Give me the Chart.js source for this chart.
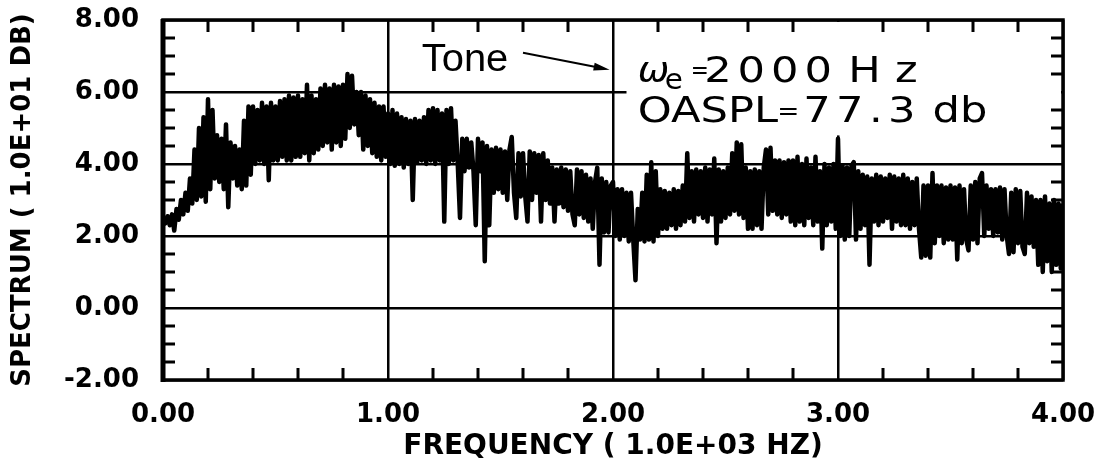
<!DOCTYPE html>
<html>
<head>
<meta charset="utf-8">
<script src="https://cdn.jsdelivr.net/npm/chart.js@4.4.1/dist/chart.umd.min.js"></script>
<style>
  html, body { margin: 0; padding: 0; background: #fff; }
  canvas { display: block; }
</style>
</head>
<body>
<canvas id="spectrum-chart" width="1112" height="475"></canvas>
<script>
// Narrow-band spectrum, 0 - 4 kHz, sampled every 10 Hz (values in units of 10 dB)
const freqStep = 0.01;
const spectrum = [
    2.40, 2.35, 2.55, 2.30, 2.60, 2.15, 2.75, 2.45, 3.00, 2.60,   // 0.0
    3.20, 2.70, 3.60, 2.90, 4.40, 3.00, 5.00, 3.10, 5.30, 2.95,   // 0.1
    5.80, 3.30, 5.50, 3.60, 4.80, 3.50, 4.70, 3.30, 5.10, 2.80,   // 0.2
    4.60, 3.60, 4.50, 3.40, 4.40, 3.30, 5.20, 3.40, 5.60, 3.70,   // 0.3
    5.60, 4.00, 5.50, 4.10, 5.70, 4.00, 5.60, 3.55, 5.70, 4.10,   // 0.4
    5.60, 4.10, 5.75, 4.20, 5.80, 4.10, 5.90, 4.10, 5.85, 4.20,   // 0.5
    5.90, 4.20, 5.80, 4.30, 6.20, 4.10, 5.90, 4.30, 5.80, 4.40,   // 0.6
    6.10, 4.50, 6.20, 4.60, 6.10, 4.40, 6.20, 4.60, 6.15, 4.50,   // 0.7
    6.20, 4.70, 6.50, 5.00, 6.45, 5.10, 6.00, 4.80, 6.00, 4.40,   // 0.8
    5.90, 4.50, 5.80, 4.30, 5.70, 4.20, 5.60, 4.10, 5.60, 4.20,   // 0.9
    5.40, 4.00, 5.50, 3.95, 5.40, 4.00, 5.30, 3.90, 5.25, 4.00,   // 1.0
    5.20, 3.00, 5.25, 4.05, 5.20, 4.10, 5.30, 4.00, 5.50, 4.10,   // 1.1
    5.55, 4.00, 5.50, 4.10, 5.40, 2.40, 5.50, 4.00, 5.55, 4.10,   // 1.2
    5.20, 4.00, 2.50, 4.70, 3.80, 4.70, 3.90, 4.60, 3.80, 2.30,   // 1.3
    4.70, 3.80, 4.60, 1.30, 4.50, 2.30, 4.40, 3.20, 4.45, 3.30,   // 1.4
    4.40, 3.20, 4.35, 3.00, 4.40, 4.75, 3.20, 2.50, 4.30, 3.10,   // 1.5
    4.30, 3.10, 2.40, 4.35, 3.00, 4.30, 3.20, 4.25, 2.40, 4.30,   // 1.6
    3.00, 4.10, 2.90, 3.90, 2.40, 3.85, 2.90, 3.90, 2.80, 3.85,   // 1.7
    2.70, 3.80, 2.60, 2.30, 3.85, 2.60, 3.80, 2.50, 3.70, 2.40,   // 1.8
    3.60, 2.20, 3.50, 3.90, 1.20, 3.60, 2.10, 3.50, 2.10, 3.40,   // 1.9
    3.50, 2.00, 3.30, 1.90, 3.30, 2.00, 3.20, 1.85, 3.20, 1.90,   // 2.0
    0.77, 2.75, 1.90, 3.20, 1.85, 3.70, 1.90, 4.05, 1.85, 3.80,   // 2.1
    2.00, 3.30, 2.20, 3.25, 2.20, 3.20, 2.30, 3.30, 2.20, 3.25,   // 2.2
    2.30, 3.40, 2.40, 4.30, 2.50, 3.80, 2.40, 3.85, 2.60, 3.80,   // 2.3
    2.50, 3.90, 2.40, 3.85, 2.60, 4.15, 1.80, 3.85, 2.40, 3.80,   // 2.4
    2.50, 3.90, 2.60, 4.30, 2.70, 4.60, 2.60, 4.55, 2.50, 3.90,   // 2.5
    2.20, 3.80, 2.20, 3.85, 2.30, 3.80, 2.20, 3.90, 4.40, 2.60,   // 2.6
    4.45, 2.70, 4.10, 2.60, 4.10, 2.50, 4.05, 2.60, 4.10, 2.40,   // 2.7
    4.10, 2.30, 4.20, 2.40, 4.00, 2.30, 4.15, 2.50, 3.90, 2.30,   // 2.8
    4.20, 2.40, 3.80, 1.65, 4.00, 2.30, 3.90, 2.40, 4.00, 2.20,   // 2.9
    4.70, 2.00, 3.95, 1.90, 3.90, 2.00, 3.95, 4.05, 1.90, 3.80,   // 3.0
    2.20, 3.70, 2.30, 3.65, 1.20, 3.60, 2.40, 3.70, 2.30, 3.65,   // 3.1
    2.40, 3.60, 2.50, 3.70, 2.20, 3.65, 2.40, 3.60, 2.30, 3.70,   // 3.2
    2.30, 3.60, 2.20, 3.50, 2.30, 3.60, 2.20, 1.40, 3.40, 1.45,   // 3.3
    3.40, 1.40, 3.75, 1.80, 3.40, 2.00, 3.40, 1.80, 3.35, 1.90,   // 3.4
    3.40, 1.90, 3.35, 1.35, 3.40, 1.80, 3.30, 1.90, 1.60, 3.40,   // 3.5
    1.90, 3.50, 1.80, 3.60, 3.75, 2.00, 3.40, 2.20, 3.30, 2.00,   // 3.6
    3.30, 2.10, 3.35, 1.90, 3.30, 2.00, 1.50, 3.20, 1.55, 3.30,   // 3.7
    1.80, 3.25, 1.70, 1.50, 3.20, 1.80, 3.10, 1.70, 3.00, 1.20,   // 3.8
    3.00, 1.00, 3.10, 1.30, 2.90, 1.00, 3.00, 1.20, 2.90, 1.10,   // 3.9
    2.90                                                          // 4.0
];

// Axis ranges and tick spacing
const xRange = [0, 4];
const yRange = [-2, 8];
const xMajor = 1, xMinor = 0.2;
const yMajor = 2, yMinor = 0.5;

const xTitle = 'FREQUENCY ( 1.0E+03 HZ)';
const yTitle = 'SPECTRUM ( 1.0E+01 DB)';

// Annotation anchors, in axis units (kHz, 10 dB)
const toneLabel = { text: 'Tone', at: [1.15, 6.57] };
const toneArrow = { from: [1.60, 7.09], to: [1.985, 6.62] };
const notePanel = { x: [2.06, 4.0], y: [4.85, 8.0] };

const points = spectrum.map((v, i) => ({ x: +(i * freqStep).toFixed(2), y: v }));

const boldFont = (size) => ({ family: '"DejaVu Sans", sans-serif', weight: 'bold', size: size });

// text drawn a little wider than the font, like the plotter lettering
function wideText(ctx, text, x, y, font, spacing, stretch) {
    ctx.save();
    ctx.font = font;
    ctx.letterSpacing = spacing + 'px';
    ctx.translate(x, y);
    ctx.scale(stretch, 1);
    ctx.fillText(text, 0, 0);
    ctx.restore();
}

// Frame, inward minor ticks and the text annotations
const framePlugin = {
    id: 'frame',
    beforeDatasetsDraw(chart) {
        const { ctx, scales: { x, y } } = chart;
        // blank panel behind the run conditions text
        const x0 = x.getPixelForValue(notePanel.x[0]);
        const x1 = x.getPixelForValue(notePanel.x[1]);
        const y0 = y.getPixelForValue(notePanel.y[1]);
        const y1 = y.getPixelForValue(notePanel.y[0]);
        ctx.save();
        ctx.fillStyle = '#fff';
        ctx.fillRect(x0, y0 + 2, x1 - x0 - 2, y1 - y0);
        ctx.restore();
    },
    afterDraw(chart) {
        const { ctx, chartArea: a, scales: { x, y } } = chart;
        ctx.save();
        ctx.strokeStyle = '#000';
        ctx.fillStyle = '#000';

        // minor ticks pointing into the plot
        ctx.lineWidth = 3;
        const tick = 12;
        ctx.beginPath();
        for (let v = xRange[0] + xMinor; v < xRange[1] - 1e-6; v += xMinor) {
            if (Math.abs(v / xMajor - Math.round(v / xMajor)) < 1e-6) continue;
            const px = x.getPixelForValue(v);
            ctx.moveTo(px, a.bottom); ctx.lineTo(px, a.bottom - tick);
            ctx.moveTo(px, a.top); ctx.lineTo(px, a.top + tick);
        }
        for (let v = yRange[0] + yMinor; v < yRange[1] - 1e-6; v += yMinor) {
            if (Math.abs(v / yMajor - Math.round(v / yMajor)) < 1e-6) continue;
            const py = y.getPixelForValue(v);
            ctx.moveTo(a.left, py); ctx.lineTo(a.left + tick, py);
            ctx.moveTo(a.right, py); ctx.lineTo(a.right - tick, py);
        }
        ctx.stroke();

        // plot frame, left edge heavier
        ctx.lineWidth = 3.5;
        ctx.strokeRect(a.left, a.top, a.right - a.left, a.bottom - a.top);
        ctx.lineWidth = 5;
        ctx.beginPath();
        ctx.moveTo(a.left, a.top - 1); ctx.lineTo(a.left, a.bottom + 2);
        ctx.stroke();

        const px = (f) => x.getPixelForValue(f);
        const py = (v) => y.getPixelForValue(v);

        // "Tone" label with arrow onto the 2 kHz line
        ctx.textBaseline = 'alphabetic';
        ctx.textAlign = 'left';
        wideText(ctx, toneLabel.text, px(toneLabel.at[0]), py(toneLabel.at[1]),
            '38px "Liberation Sans", sans-serif', 0, 1.05);

        const ax0 = px(toneArrow.from[0]), ay0 = py(toneArrow.from[1]);
        const ax1 = px(toneArrow.to[0]), ay1 = py(toneArrow.to[1]);
        const ang = Math.atan2(ay1 - ay0, ax1 - ax0);
        ctx.lineWidth = 2;
        ctx.beginPath();
        ctx.moveTo(ax0, ay0); ctx.lineTo(ax1 - 10 * Math.cos(ang), ay1 - 10 * Math.sin(ang));
        ctx.stroke();
        ctx.beginPath();
        ctx.moveTo(ax1, ay1);
        ctx.lineTo(ax1 - 16 * Math.cos(ang) + 4 * Math.sin(ang), ay1 - 16 * Math.sin(ang) - 4 * Math.cos(ang));
        ctx.lineTo(ax1 - 16 * Math.cos(ang) - 4 * Math.sin(ang), ay1 - 16 * Math.sin(ang) + 4 * Math.cos(ang));
        ctx.closePath();
        ctx.fill();

        // run conditions
        const line1 = py(6.29), line2 = py(5.16);
        const noteFont = '36px "DejaVu Sans", sans-serif';
        const smallFont = '24px "DejaVu Sans", sans-serif';
        wideText(ctx, '\u03c9', px(2.11), line1, 'italic 36px "DejaVu Sans", sans-serif', 0, 1.05);
        wideText(ctx, 'e', px(2.23), py(6.07), '28px "DejaVu Sans", sans-serif', 0, 1.05);
        wideText(ctx, '=', px(2.345), py(6.40), smallFont, 0, 0.9);
        wideText(ctx, '2000', px(2.405), line1, noteFont, 5, 1.2);
        wideText(ctx, 'Hz', px(3.045), line1, noteFont, 12, 1.2);

        wideText(ctx, 'OASPL', px(2.11), line2, noteFont, 0, 1.2);
        wideText(ctx, '=', px(2.73), py(5.26), smallFont, 0, 1.1);
        wideText(ctx, '77.3', px(2.845), line2, noteFont, 4.5, 1.2);
        wideText(ctx, 'db', px(3.42), line2, noteFont, 0, 1.2);
        ctx.restore();
    }
};

const ctx = document.getElementById('spectrum-chart').getContext('2d');
const spectrumChart = new Chart(ctx, {
    type: 'line',
    data: {
        datasets: [{
            data: points,
            borderColor: '#000',
            borderWidth: 4.5,
            borderJoinStyle: 'round',
            pointRadius: 0,
            tension: 0,
            fill: false
        }]
    },
    options: {
        responsive: false,
        animation: false,
        layout: { padding: { left: 0, right: 49, top: 20, bottom: 0 } },
        plugins: {
            legend: { display: false },
            tooltip: { enabled: false }
        },
        scales: {
            x: {
                type: 'linear',
                min: xRange[0],
                max: xRange[1],
                afterFit: (scale) => { scale.height = 95; },
                ticks: {
                    stepSize: xMajor,
                    maxRotation: 0,
                    padding: 0,
                    color: '#000',
                    font: boldFont(26),
                    callback: (v) => v.toFixed(2)
                },
                // invisible outer ticks only push the labels away from the frame
                grid: { color: '#000', lineWidth: 2.5, drawTicks: true, tickLength: 20, tickColor: 'rgba(0,0,0,0)' },
                border: { display: false },
                title: {
                    display: true,
                    text: xTitle,
                    color: '#000',
                    font: boldFont(28),
                    padding: { top: 0, bottom: 11 }
                }
            },
            y: {
                type: 'linear',
                min: yRange[0],
                max: yRange[1],
                afterFit: (scale) => { scale.width = 163; },
                ticks: {
                    stepSize: yMajor,
                    padding: 0,
                    color: '#000',
                    font: boldFont(26),
                    callback: (v) => v.toFixed(2)
                },
                grid: { color: '#000', lineWidth: 2.5, drawTicks: true, tickLength: 24, tickColor: 'rgba(0,0,0,0)' },
                border: { display: false },
                title: {
                    display: true,
                    text: yTitle,
                    color: '#000',
                    font: boldFont(26),
                    padding: { top: 8, bottom: 0 }
                }
            }
        }
    },
    plugins: [framePlugin]
});
</script>
</body>
</html>
